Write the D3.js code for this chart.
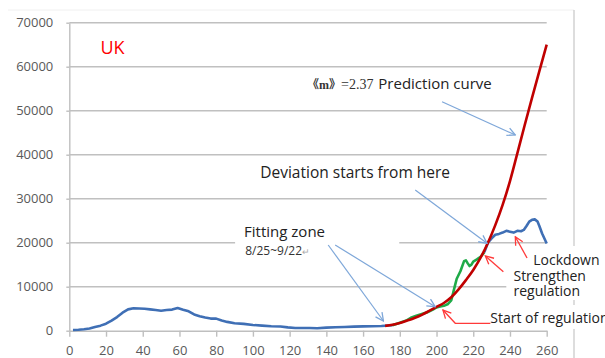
<!DOCTYPE html>
<html>
<head>
<meta charset="utf-8">
<script src="https://cdn.jsdelivr.net/npm/d3@7"></script>
<style>
body{margin:0;background:#fff}
svg{display:block}
</style>
</head>
<body>
<svg width="605" height="358"></svg>
<script>
// observed daily cases, first part (blue)
var blueDays1 = [2,5,8,11,14,17,20,23,26,29,32,35,38,41,44,47,50,53,56,59,62,65,68,71,74,77,80,83,86,90,95,100,105,110,115,119,123,127,131,135,140,145,150,155,160,165,170,176]
var blueCases1 = [150,200,330,520,850,1150,1600,2300,3100,4100,4850,5100,5050,5000,4850,4700,4550,4700,4800,5150,4750,4400,3700,3300,3000,2750,2750,2300,2000,1700,1550,1300,1150,1000,950,750,600,620,600,560,700,780,850,920,980,1020,1080,1250]
// observed cases after start of regulation (green)
var greenDays = [176,180,184,186,189,192,195,198,200,202,204,206,208,209,210,211,213,215,216,217,218,219,220,222,224,226]
var greenCases = [1250,1800,2400,2950,3400,3800,4200,4800,5300,5500,5650,6000,6900,8500,10200,11800,13500,15800,16000,15300,14700,15000,15700,16200,16800,17800]
// observed cases after deviation (blue)
var blueDays2 = [226,228,230,232,234,236,238,240,242,244,246,247.5,249,250.5,252,253.5,255,256,257.5,260]
var blueCases2 = [17800,20000,21000,21800,22000,22300,22700,22500,22300,22700,22600,22900,23800,24800,25200,25300,24800,23800,22100,19800]
// prediction curve (red)
var predDays = [172,176,180,184,188,192,196,200,204,208,212,216,220,224,228,232,236,240,244,248,252,256,260]
var predCases = [1100,1350,1750,2300,2900,3600,4500,5400,6300,7600,9400,11500,13800,16600,20000,24000,28600,34000,40300,46700,52900,59000,65000]

var xTicks = d3.range(0, 261, 20)
var yTicks = d3.range(0, 70001, 10000)

var svg = d3.select('svg')
var x = d3.scaleLinear().domain([0, 260]).range([69.3, 546.7])
var y = d3.scaleLinear().domain([0, 70000]).range([330.7, 22.7])
var font = "'Open Sans', sans-serif"

// chart frame
svg.append('line').attr('x1', 8).attr('x2', 574).attr('y1', 10).attr('y2', 10).attr('stroke', '#f0f0f0')
svg.append('line').attr('x1', 574).attr('x2', 574).attr('y1', 10).attr('y2', 358).attr('stroke', '#c6c6c6').attr('stroke-width', 1.2)

// gridlines
svg.append('g').selectAll('line')
    .data(yTicks.slice(1))
    .join('line')
    .attr('x1', x(0)).attr('x2', x(260))
    .attr('y1', d => y(d)).attr('y2', d => y(d))
    .attr('stroke', '#c0c0c0').attr('stroke-width', 1.4)

// axes
function styleAxis(g){
    g.attr('font-family', font).attr('font-size', 13)
    g.selectAll('line,path').attr('stroke', '#bfbfbf').attr('stroke-width', 1.4)
    g.selectAll('text').attr('fill', '#595959')
}
svg.append('g')
    .attr('transform', `translate(${x(0)},0)`)
    .call(d3.axisLeft(y).tickValues(yTicks).tickSize(3).tickSizeOuter(0).tickPadding(13).tickFormat(d3.format('d')))
    .call(styleAxis)
svg.append('g')
    .attr('transform', `translate(0,${y(0)})`)
    .call(d3.axisBottom(x).tickValues(xTicks).tickSize(6).tickSizeOuter(0).tickPadding(9.5))
    .call(styleAxis)

// white text boxes hiding parts of the grid (days / cases)
var boxes = [
    [[90.3, 25750], [179.7, 15610]],
    [[238, 19250], [300, 6980]],
    [[226.6, 5840], [300, 400]]
]
svg.append('g').selectAll('rect')
    .data(boxes)
    .join('rect')
    .attr('x', d => x(d[0][0])).attr('y', d => y(d[0][1]))
    .attr('width', d => x(d[1][0]) - x(d[0][0]))
    .attr('height', d => y(d[1][1]) - y(d[0][1]))
    .attr('fill', '#fff')

// data lines
var line = d3.line().x(d => x(d[0])).y(d => y(d[1]))
function series(days, vals, color, curve){
    svg.append('path')
        .datum(days.map((d, i) => [d, vals[i]]))
        .attr('d', line.curve(curve || d3.curveLinear))
        .attr('fill', 'none')
        .attr('stroke', color)
        .attr('stroke-width', 2.6)
        .attr('stroke-linejoin', 'round')
}
series(blueDays1, blueCases1, '#3f6fb5')
series(greenDays, greenCases, '#1faa48')
series(blueDays2, blueCases2, '#3f6fb5')
series(predDays, predCases, '#c00000', d3.curveMonotoneX)

// arrows
var defs = svg.append('defs')
;[['arrBlue', '#7ea7d9'], ['arrRed', '#ff3a3a']].forEach(([id, c]) => {
    defs.append('marker')
        .attr('id', id)
        .attr('viewBox', '0 0 10 10')
        .attr('refX', 9).attr('refY', 5)
        .attr('markerWidth', 10).attr('markerHeight', 10)
        .attr('markerUnits', 'userSpaceOnUse')
        .attr('orient', 'auto')
        .append('path')
        .attr('d', 'M1,1L9,5L1,9')
        .attr('fill', 'none').attr('stroke', c).attr('stroke-width', 1.3)
})
var blueArrows = [
    [[203, 52050], [242.9, 44480]],
    [[188.4, 31980], [227.5, 19860]],
    [[141, 19480], [171.1, 2200]],
    [[144.8, 19480], [199.3, 5450]]
]
var redArrows = [
    [[249.3, 16520], [242.9, 21360]],
    [[236.4, 13400], [226.6, 16980]],
    [[229.3, 1680], [210.2, 1680], [203.5, 4700]]
]
var arrowLine = d3.line().x(d => x(d[0])).y(d => y(d[1]))
svg.append('g').selectAll('path')
    .data(blueArrows)
    .join('path')
    .attr('d', arrowLine)
    .attr('fill', 'none').attr('stroke', '#7ea7d9').attr('stroke-width', 1.2)
    .attr('marker-end', 'url(#arrBlue)')
svg.append('g').selectAll('path')
    .data(redArrows)
    .join('path')
    .attr('d', arrowLine)
    .attr('fill', 'none').attr('stroke', '#ff3a3a').attr('stroke-width', 1.3)
    .attr('marker-end', 'url(#arrRed)')

// annotation texts: [text, day, cases, size, colour]
var notes = [
    ['UK', 17, 63000, 18, '#ff0000'],
    ['Prediction curve', 168.3, 55000, 15, '#222'],
    ['Deviation starts from here', 104, 34600, 15.5, '#222'],
    ['Fitting zone', 95.2, 21400, 15, '#222'],
    ['Lockdown', 252.7, 14900, 14, '#222'],
    ['Strengthen', 241.9, 11300, 14, '#222'],
    ['regulation', 241.9, 8000, 14, '#222'],
    ['Start of regulation', 229.3, 1820, 14, '#222']
]
svg.append('g').selectAll('text')
    .data(notes)
    .join('text')
    .attr('x', d => x(d[1])).attr('y', d => y(d[2]))
    .attr('font-family', font)
    .attr('font-size', d => d[3])
    .attr('fill', d => d[4])
    .text(d => d[0])

var mText = svg.append('text')
    .attr('x', x(129.5)).attr('y', y(55000))
    .attr('font-family', "'Liberation Serif', 'Noto Sans CJK JP', serif")
    .attr('fill', '#333')
mText.append('tspan').attr('font-size', 12).attr('font-weight', 'bold').text('《m》')
mText.append('tspan').attr('font-size', 14).text('=2.37')

var fitText = svg.append('text')
    .attr('x', x(95.8)).attr('y', y(17100))
    .attr('font-family', font)
    .attr('font-size', 12)
    .attr('fill', '#333')
fitText.append('tspan').text('8/25~9/22')
fitText.append('tspan').attr('font-size', 9).attr('fill', '#aaa').text('↵')
</script>
</body>
</html>
